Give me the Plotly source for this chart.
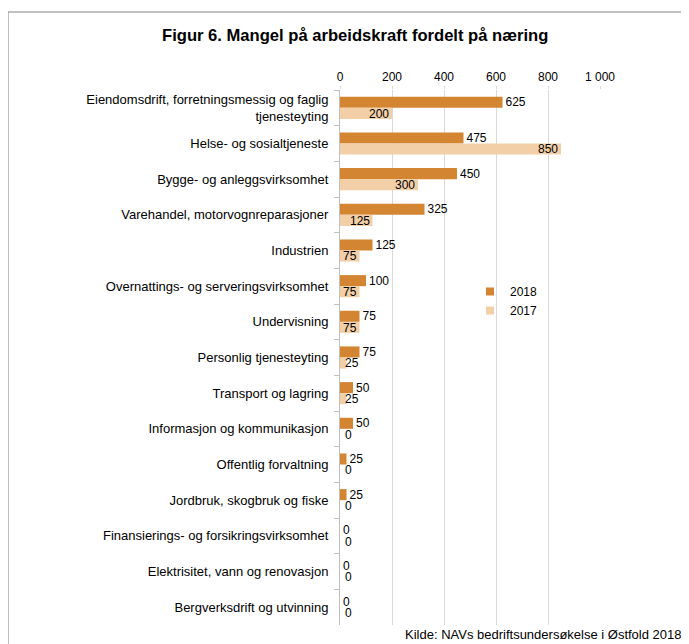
import plotly.graph_objects as go

categories = [
    "Eiendomsdrift, forretningsmessig og faglig<br>tjenesteyting",
    "Helse- og sosialtjeneste",
    "Bygge- og anleggsvirksomhet",
    "Varehandel, motorvognreparasjoner",
    "Industrien",
    "Overnattings- og serveringsvirksomhet",
    "Undervisning",
    "Personlig tjenesteyting",
    "Transport og lagring",
    "Informasjon og kommunikasjon",
    "Offentlig forvaltning",
    "Jordbruk, skogbruk og fiske",
    "Finansierings- og forsikringsvirksomhet",
    "Elektrisitet, vann og renovasjon",
    "Bergverksdrift og utvinning",
]
values_2018 = [625, 475, 450, 325, 125, 100, 75, 75, 50, 50, 25, 25, 0, 0, 0]
values_2017 = [200, 850, 300, 125, 75, 75, 75, 25, 25, 0, 0, 0, 0, 0, 0]
x_ticks = [0, 200, 400, 600, 800, 1000]
x_tick_labels = ["0", "200", "400", "600", "800", "1 000"]

C2018 = "#D38532"
C2017 = "#F2CFA7"
FONT = "Liberation Sans, Arial, sans-serif"

# the page has an 8px body margin: figure coords = screen coords - 8
OFF = 8
W, H = 689 - OFF, 644 - OFF
L = 340 - OFF
T = 90 - OFF
R = W - (600 - OFF)
B = H - (625 - OFF)
PW, PH = W - L - R, H - T - B


def px(xs):
    return (xs - OFF - L) / PW


def py(ys):
    return (H - B - (ys - OFF)) / PH


fig = go.Figure()
fig.add_trace(go.Bar(
    y=categories, x=values_2018, orientation="h", name="2018",
    marker=dict(color=C2018, line=dict(width=0)),
    text=[str(v) for v in values_2018], textposition="outside",
    constraintext="none", showlegend=False, legendgroup="2018",
    textfont=dict(size=12, color="#000000", family=FONT), cliponaxis=False,
))
fig.add_trace(go.Bar(
    y=categories, x=values_2017, orientation="h", name="2017",
    marker=dict(color=C2017, line=dict(width=0)),
    showlegend=False, legendgroup="2017",
))
# legend entries with small square swatches
for name, col in (("2018", C2018), ("2017", C2017)):
    fig.add_trace(go.Scatter(
        x=[None], y=[None], mode="markers", name=name, legendgroup=name,
        marker=dict(symbol="square", size=8, color=col), showlegend=True,
    ))

# data labels for 2017 (inside end, or at the start when the bar is too short)
for i, v in enumerate(values_2017):
    big = v >= 75
    fig.add_annotation(
        x=v if big else 0, y=i + 0.16, xref="x", yref="y",
        text=str(v), showarrow=False,
        xanchor="right" if big else "left",
        xshift=-1 if big else 3,
        font=dict(size=12, color="#000000", family=FONT),
    )

# title
fig.add_annotation(
    x=px(355), y=py(35), xref="paper", yref="paper",
    text="<b>Figur 6. Mangel på arbeidskraft fordelt på næring</b>",
    showarrow=False, xanchor="center", yanchor="middle",
    font=dict(size=16.6, family=FONT, color="#000000"),
)
# source
fig.add_annotation(
    x=px(684), y=py(644), xref="paper", yref="paper",
    text="Kilde: NAVs bedriftsundersøkelse i Østfold 2018",
    showarrow=False, xanchor="right", yanchor="bottom",
    font=dict(size=13, family=FONT, color="#000000"),
)

# outer frame
fig.add_shape(type="rect", xref="paper", yref="paper",
              x0=px(8), x1=px(720), y0=py(680), y1=py(12),
              line=dict(color="#808080", width=1), fillcolor="rgba(0,0,0,0)",
              layer="below")

fig.update_layout(
    width=W, height=H,
    margin=dict(l=L, r=R, t=T, b=B, autoexpand=False),
    paper_bgcolor="white", plot_bgcolor="white",
    barmode="group", bargap=0.38, bargroupgap=0,
    font=dict(family=FONT, size=12, color="#000000"),
    showlegend=True,
    legend=dict(x=px(470), y=py(277), xanchor="left", yanchor="top",
                traceorder="normal", font=dict(size=12),
                tracegroupgap=3,
                bgcolor="rgba(0,0,0,0)", itemwidth=30),
    xaxis=dict(side="top", range=[0, 1000], tickvals=x_ticks,
               ticktext=x_tick_labels, automargin=False,
               showgrid=True, gridcolor="#D9D9D9", gridwidth=1,
               zeroline=False, showline=False,
               ticks="outside", ticklen=3, tickcolor="#D9D9D9",
               tickfont=dict(size=12), fixedrange=True),
    yaxis=dict(autorange="reversed", showline=True, linecolor="#BFBFBF",
               ticks="outside", tickson="boundaries", ticklen=5,
               tickcolor="#BFBFBF", tickfont=dict(size=13), automargin=False,
               showgrid=False, ticklabelstandoff=8),
)

fig.write_html("out.html")
